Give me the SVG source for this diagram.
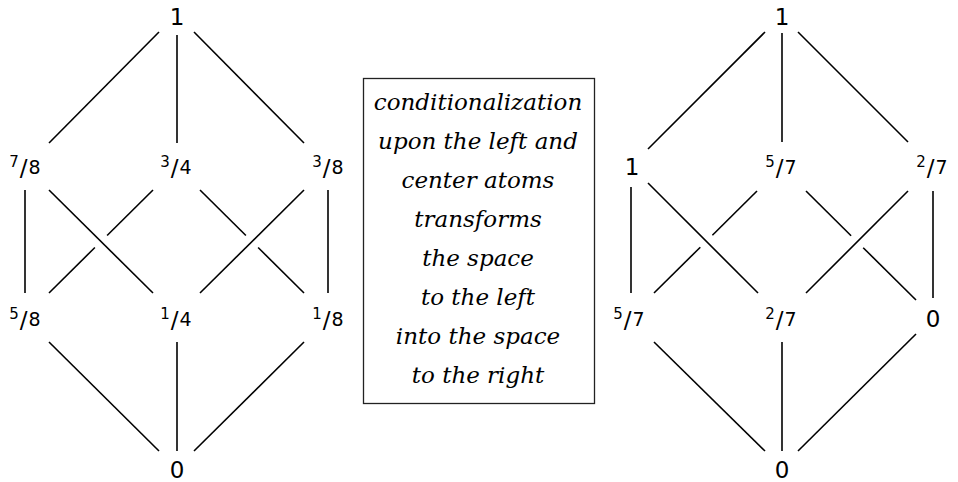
<svg xmlns="http://www.w3.org/2000/svg" width="958" height="482" viewBox="0 0 958 482">
<style>
  .bg{fill:#fff}
  .edge{stroke:#000;stroke-width:1.6;fill:none;stroke-linecap:butt}
  .num{font-family:"DejaVu Sans","Liberation Sans",sans-serif;fill:#000;text-anchor:middle;font-size:23px}
  .sup{font-size:15px}
  .sl{font-size:23px}
  .den{font-size:19px}
  .box{fill:#fff;stroke:#222;stroke-width:1.3}
  .cap{font-family:"DejaVu Serif","Liberation Serif",serif;font-style:italic;font-size:23px;fill:#000;text-anchor:middle}
</style>
<rect class="bg" x="0" y="0" width="958" height="482"/>

<g id="connectors">
  <!-- left lattice -->
  <line class="edge" x1="159" y1="32" x2="49" y2="143"/>
  <line class="edge" x1="177" y1="35" x2="177" y2="143"/>
  <line class="edge" x1="194" y1="32" x2="304" y2="143"/>
  <line class="edge" x1="25" y1="190" x2="25" y2="293"/>
  <line class="edge" x1="49" y1="190" x2="153" y2="293"/>
  <line class="edge" x1="153" y1="190" x2="107.1" y2="235.5"/>
  <line class="edge" x1="94.9" y1="247.5" x2="49" y2="293"/>
  <line class="edge" x1="200" y1="190" x2="245.9" y2="235.5"/>
  <line class="edge" x1="258.1" y1="247.5" x2="304" y2="293"/>
  <line class="edge" x1="304" y1="190" x2="200" y2="293"/>
  <line class="edge" x1="328" y1="190" x2="328" y2="293"/>
  <line class="edge" x1="49" y1="342" x2="159" y2="451"/>
  <line class="edge" x1="177" y1="342" x2="177" y2="451"/>
  <line class="edge" x1="304" y1="342" x2="194" y2="451"/>
  <!-- right lattice -->
  <line class="edge" x1="765" y1="32" x2="648" y2="149"/>
  <line class="edge" x1="782" y1="33" x2="782" y2="142"/>
  <line class="edge" x1="798" y1="32" x2="908" y2="142"/>
  <line class="edge" x1="631" y1="187" x2="631" y2="293"/>
  <line class="edge" x1="648" y1="183" x2="758" y2="293"/>
  <line class="edge" x1="757" y1="191" x2="712.4" y2="235.2"/>
  <line class="edge" x1="700.3" y1="247.2" x2="654" y2="293"/>
  <line class="edge" x1="806" y1="191" x2="851.1" y2="235.7"/>
  <line class="edge" x1="863.2" y1="247.7" x2="916" y2="300"/>
  <line class="edge" x1="908" y1="191" x2="806" y2="293"/>
  <line class="edge" x1="933" y1="191" x2="933" y2="298"/>
  <line class="edge" x1="654" y1="342" x2="765" y2="451"/>
  <line class="edge" x1="782" y1="342" x2="782" y2="451"/>
  <line class="edge" x1="916" y1="334" x2="798" y2="451"/>
</g>

<!-- left lattice nodes -->
<g id="L-top"><text class="num" x="177" y="25">1</text></g>
<g id="L-7-8"><text class="num" x="25" y="174"><tspan class="sup" dy="-7">7</tspan><tspan class="sl" dx="1" dy="9">/</tspan><tspan class="den" dx="1" dy="-2">8</tspan></text></g>
<g id="L-3-4"><text class="num" x="176" y="174"><tspan class="sup" dy="-7">3</tspan><tspan class="sl" dx="1" dy="9">/</tspan><tspan class="den" dx="1" dy="-2">4</tspan></text></g>
<g id="L-3-8"><text class="num" x="328" y="174"><tspan class="sup" dy="-7">3</tspan><tspan class="sl" dx="1" dy="9">/</tspan><tspan class="den" dx="1" dy="-2">8</tspan></text></g>
<g id="L-5-8"><text class="num" x="25" y="326"><tspan class="sup" dy="-7">5</tspan><tspan class="sl" dx="1" dy="9">/</tspan><tspan class="den" dx="1" dy="-2">8</tspan></text></g>
<g id="L-1-4"><text class="num" x="176" y="326"><tspan class="sup" dy="-7">1</tspan><tspan class="sl" dx="1" dy="9">/</tspan><tspan class="den" dx="1" dy="-2">4</tspan></text></g>
<g id="L-1-8"><text class="num" x="328" y="326"><tspan class="sup" dy="-7">1</tspan><tspan class="sl" dx="1" dy="9">/</tspan><tspan class="den" dx="1" dy="-2">8</tspan></text></g>
<g id="L-bot"><text class="num" x="177" y="478">0</text></g>

<!-- caption box -->
<g id="caption">
  <rect class="box" x="363.5" y="78.5" width="231" height="325"/>
  <text class="cap" x="478" y="110">conditionalization</text>
  <text class="cap" x="478" y="149">upon the left and</text>
  <text class="cap" x="478" y="188">center atoms</text>
  <text class="cap" x="478" y="227">transforms</text>
  <text class="cap" x="478" y="266">the space</text>
  <text class="cap" x="478" y="305">to the left</text>
  <text class="cap" x="478" y="344">into the space</text>
  <text class="cap" x="478" y="383">to the right</text>
</g>

<!-- right lattice nodes -->
<g id="R-top"><text class="num" x="782" y="25">1</text></g>
<g id="R-1"><text class="num" x="632" y="175">1</text></g>
<g id="R-5-7a"><text class="num" x="781" y="174"><tspan class="sup" dy="-7">5</tspan><tspan class="sl" dx="1" dy="9">/</tspan><tspan class="den" dx="1" dy="-2">7</tspan></text></g>
<g id="R-2-7a"><text class="num" x="932" y="174"><tspan class="sup" dy="-7">2</tspan><tspan class="sl" dx="1" dy="9">/</tspan><tspan class="den" dx="1" dy="-2">7</tspan></text></g>
<g id="R-5-7b"><text class="num" x="629" y="326"><tspan class="sup" dy="-7">5</tspan><tspan class="sl" dx="1" dy="9">/</tspan><tspan class="den" dx="1" dy="-2">7</tspan></text></g>
<g id="R-2-7b"><text class="num" x="781" y="326"><tspan class="sup" dy="-7">2</tspan><tspan class="sl" dx="1" dy="9">/</tspan><tspan class="den" dx="1" dy="-2">7</tspan></text></g>
<g id="R-0"><text class="num" x="933" y="327">0</text></g>
<g id="R-bot"><text class="num" x="782" y="478">0</text></g>
</svg>
